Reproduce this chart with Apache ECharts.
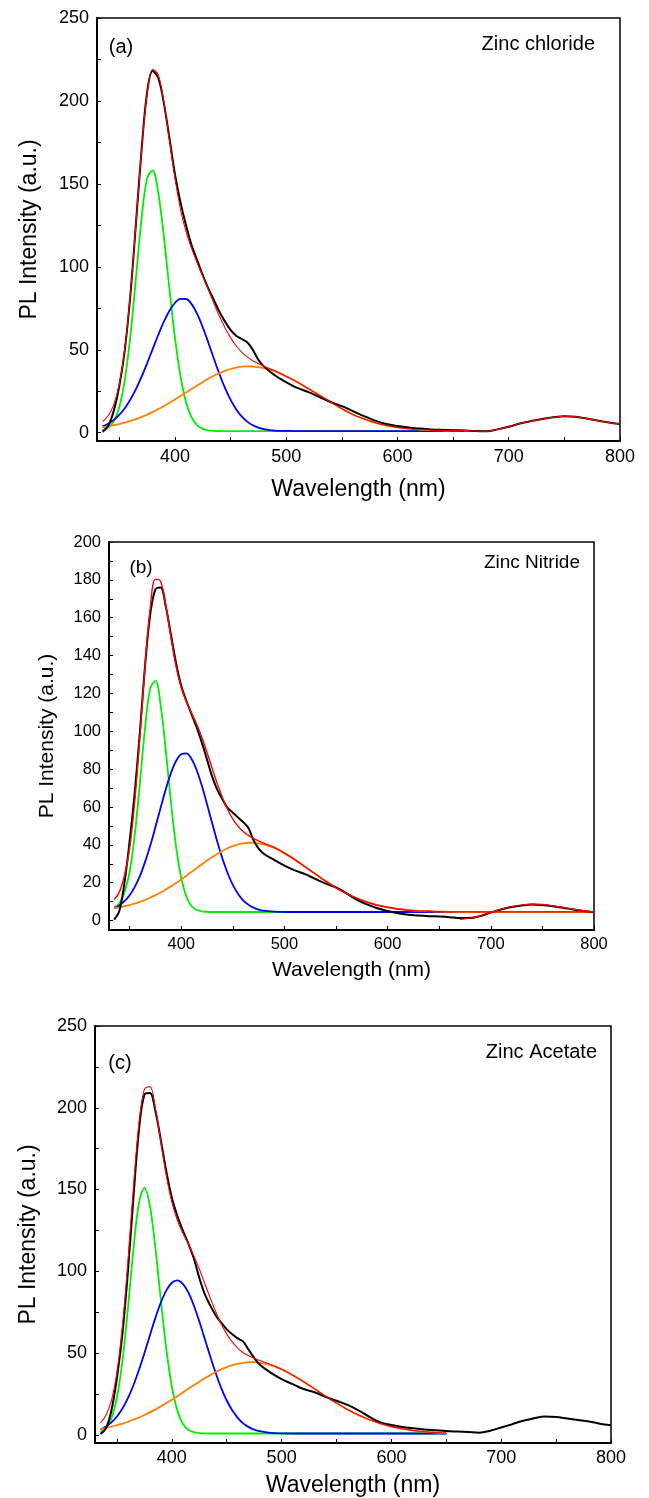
<!DOCTYPE html>
<html><head><meta charset="utf-8">
<script src="https://cdn.jsdelivr.net/npm/echarts/dist/echarts.min.js"></script>
<style>html,body{margin:0;padding:0;background:#fff}#c{width:649px;height:1498px}</style>
</head><body><div id="c"></div>
<script>
// ---- shared wavelength grid (nm) ----
const wl = [335,340,345,350,355,360,365,370,375,380,385,390,395,400,405,410,415,420,425,430,435,440,445,450,455,460,465,470,475,480,
  490,500,510,520,530,540,550,560,570,580,590,600,610,620,630,640,650,660,670,680,690,700,710,720,730,740,750,760,770,780,790,800];
const wlTailA = [660,670,680,690,700,710,720,730,740,750,760,770,780,790,800];
const wlTailB = [670,680,690,700,710,720,730,740,750,760,770,780,790,800];

// ---- tick labels ----
const xTickLabels = [400,500,600,700,800];
const xTickMarks = [350,400,450,500,550,600,650,700,750,800];
const yTicksAC = [0,50,100,150,200,250];
const yMarksAC = [0,25,50,75,100,125,150,175,200,225,250];
const yTicksB = [0,20,40,60,80,100,120,140,160,180,200];
const yMarksB = [0,10,20,30,40,50,60,70,80,90,100,110,120,130,140,150,160,170,180,190,200];

// ---- panel (a) Zinc chloride ----
const aBlack = [0.5,4,13,28,50,83,126,170,205,218,214,199,178,156,139,125,113,104,95,87,80,73,67,62,58.5,56.5,54.5,50,44,40,
  34.5,30.5,27,24.5,21.5,18.5,16,13,10,7.3,5.2,4,3.1,2.5,2,1.7,1.5,1.3,1,0.9,2,3.6,5.5,7,8.3,9.3,9.9,9.6,8.5,7.3,6.2,5.3];
const aFit = [6.7,10.2,16.8,29.2,50.7,83.5,125.7,169.8,204,219.1,215.9,199.5,176.7,153.8,135,121.2,111.1,102.5,94.4,86.3,78.1,70.3,63.3,57.3,52.4,48.6,45.7,43.4,41.7,40.1,
  37.3,34,30.5,26.5,22.5,18.5,14.5,11,8.3,6,4.3,3.2,2.4,1.9,1.6,1.4,1.3,1.2];
const aFitTail = [1.3,1,0.9,2,3.6,5.5,7,8.3,9.3,9.9,9.6,8.5,7.3,6.2,5.3];
const aGreen = [1.6,3,6.7,15.3,31.8,58.4,93.2,128.7,153.3,158.2,144.8,118.7,87.3,57.6,34.2,18.4,9.2,4.4,2.3,1.4,1.1,1,1,1,1,1,1,1,1,1,
  1,1,1,1,1,1,1,1,1,1,1,1,1,1,1,1,1,1];
const aBlue = [3.8,5.4,7.6,10.7,14.8,20,26.3,33.6,41.8,50.4,58.9,66.8,73.4,78.2,80.7,80.6,77.5,71.6,63.6,54.4,44.7,35.4,27,19.9,14.2,9.8,6.7,4.5,3.1,2.2,
  1.3,1.1,1,1,1,1,1,1,1,1,1,1,1,1,1,1,1,1];
const aOrange = [3.3,3.8,4.5,5.2,6.1,7.1,8.2,9.5,10.9,12.5,14.2,16,18,20,22.1,24.2,26.4,28.5,30.5,32.5,34.3,35.9,37.3,38.4,39.2,39.8,40,39.9,39.6,38.9,
  37,33.9,30.5,26.5,22.5,18.5,14.5,11,8.3,6,4.3,3.2,2.4,1.9,1.6,1.4,1.3,1.2];

// ---- panel (b) Zinc Nitride ----
const bBlack = [0.5,5,20,42,68,100,135,162,175,176,166,151,136,124,116,109,102,94,85,76,69,64,59.5,57,54.5,52,49,42.5,38,35.3,
  32,29,26.5,24.5,22,19.5,17.5,14.5,11,8.5,6.5,5,3.8,3,2.6,2.3,2.1,1.8,1.3,1.3,2.4,4.2,5.8,7.1,8,8.5,8.2,7.6,6.8,5.8,5,4.4];
const bFit = [11.1,15,23.8,38.1,63.3,97.5,134.9,165.4,180.4,179.3,166.7,149.8,134.1,123.1,115.6,109.7,103.7,96.7,88.8,80.4,72.2,64.9,58.7,53.6,49.9,47,45,43.4,42.1,40.9,
  38.6,35.6,32.2,28.4,24.6,20.8,17.3,14.3,11.8,9.7,8.1,7,6.1,5.5,5.1,4.9,4.7,4.6,4.6,4.6,4.6,4.6,4.6,4.6,4.6,4.6,4.6,4.6,4.6,4.6,4.6,4.6];
const bFitTail = [0.6,1.2,2.5,4.3,6,7.3,8.2,8.7,8.5,7.8,7,6,5.2,4.5];
const bGreen = [7,9,15,25.5,45.5,73,102,122.7,126.6,114,90,62.8,39,22.5,12.6,7.7,5.6,4.8,4.6,4.5,4.5,4.5,4.5,4.5,4.5,4.5,4.5,4.5,4.5,4.5,
  4.5,4.5,4.5,4.5,4.5,4.5,4.5,4.5,4.5,4.5,4.5,4.5,4.5,4.5,4.5,4.5,4.5,4.5,4.5,4.5,4.5,4.5,4.5,4.5,4.5,4.5,4.5,4.5,4.5,4.5,4.5,4.5];
const bBlue = [6.6,8,10.2,13.4,17.8,23.6,31,39.6,49.4,59.5,69.3,77.9,84.3,87.9,88.3,85.3,79.4,71.2,61.5,51.4,41.5,32.6,25,18.8,14.2,10.7,8.4,6.8,5.8,5.2,
  4.7,4.5,4.5,4.5,4.5,4.5,4.5,4.5,4.5,4.5,4.5,4.5,4.5,4.5,4.5,4.5,4.5,4.5,4.5,4.5,4.5,4.5,4.5,4.5,4.5,4.5,4.5,4.5,4.5,4.5,4.5,4.5];
const bOrange = [6.5,7,7.6,8.2,9,9.9,10.9,12.1,13.4,14.8,16.4,18.1,19.8,21.7,23.7,25.7,27.7,29.7,31.7,33.5,35.2,36.8,38.2,39.3,40.2,40.8,41.1,41.1,40.8,40.2,
  38.4,35.6,32.2,28.4,24.6,20.8,17.3,14.3,11.8,9.7,8.1,7,6.1,5.5,5.1,4.9,4.7,4.6,4.5,4.5,4.5,4.5,4.5,4.5,4.5,4.5,4.5,4.5,4.5,4.5,4.5,4.5];

// ---- panel (c) Zinc Acetate ----
const cBlack = [0.5,4,15,35,62,100,145,186,208,209,198,180,161,145,134,125,117,108,96,86,79,73,68.5,64.5,61.5,59,57,52,47,43,
  38,34,31,28,26,23.2,20.8,18.3,15,11,7.6,6,4.8,4,3.3,2.8,2.3,2,1.7,1.3,2.5,4.5,6.5,8.6,10.2,11.2,10.9,10,9.1,8.2,6.8,5.8];
const cFit = [7.3,11.9,21,38.3,66.7,106.2,151.3,190.2,211.4,212.9,199.7,179,158.3,142.3,131.2,123.4,116.7,109.4,101.4,92.5,83.6,75.3,67.8,61.6,56.8,53,50.2,48.3,46.8,45.4,
  43,40.1,36.5,32.5,28.1,23.6,19.4,15.5,12.1,9.2,6.9,5,3.7,2.6,1.9,1.4,1.1];
const cGreen = [1.8,4.1,10,22.8,45.3,77.4,113.4,141.6,151,140,114.3,82.3,52.2,29.4,14.8,6.8,3.1,1.6,1.1,0.9,0.8,0.8,0.8,0.8,0.8,0.8,0.8,0.8,0.8,0.8,
  0.8,0.8,0.8,0.8,0.8,0.8,0.8,0.8,0.8,0.8,0.8,0.8,0.8,0.8,0.8,0.8,0.8];
const cBlue = [3.4,5.1,7.6,11.2,16.1,22.4,30.3,39.6,49.9,60.8,71.5,80.9,88.3,93,94.4,92.3,87.1,79.1,69.4,58.6,47.9,37.7,28.6,21,15,10.4,7,4.7,3.2,2.2,
  1.2,0.9,0.8,0.8,0.8,0.8,0.8,0.8,0.8,0.8,0.8,0.8,0.8,0.8,0.8,0.8,0.8];
const cOrange = [3.7,4.3,5,5.9,6.9,8,9.2,10.6,12.1,13.7,15.5,17.4,19.4,21.5,23.6,25.9,28.1,30.3,32.5,34.6,36.5,38.4,40,41.4,42.6,43.4,44,44.4,44.4,44,
  42.6,40,36.5,32.5,28.1,23.6,19.4,15.5,12.1,9.2,6.9,5,3.7,2.6,1.9,1.4,1.1];

const FONT = '"Liberation Sans", Arial, Helvetica, sans-serif';
const pts = (xs, ys) => ys.map((y, i) => [xs[i], y]);

const panels = [
  { grid: {left: 97, top: 18, width: 523, height: 423}, yMax: 250, yTicks: yTicksAC, yMarks: yMarksAC,
    tick: 18, title: 23, xGap: 37, yGap: 56, xMargin: 7, yMargin: 8,
    lines: [[aGreen, wl, '#00ee00', 1.8], [aBlue, wl, '#0000ff', 1.8], [aOrange, wl, '#ff8000', 1.8],
            [aBlack, wl, '#000000', 2], [aFit, wl, '#ff0000', 1.1], [aFitTail, wlTailA, '#ff0000', 1.1]] },
  { grid: {left: 109, top: 542, width: 485, height: 388}, yMax: 200, yTicks: yTicksB, yMarks: yMarksB,
    tick: 16.5, title: 21, xGap: 30, yGap: 51, xMargin: 6, yMargin: 8,
    lines: [[bGreen, wl, '#00ee00', 1.8], [bBlue, wl, '#0000ff', 1.8], [bOrange, wl, '#ff8000', 1.8],
            [bBlack, wl, '#000000', 2], [bFit, wl, '#ff0000', 1.4], [bFitTail, wlTailB, '#ff0000', 1.2]] },
  { grid: {left: 95, top: 1026, width: 516, height: 417}, yMax: 250, yTicks: yTicksAC, yMarks: yMarksAC,
    tick: 18, title: 23, xGap: 31, yGap: 55, xMargin: 6, yMargin: 8,
    lines: [[cGreen, wl, '#00ee00', 1.8], [cBlue, wl, '#0000ff', 1.8], [cOrange, wl, '#ff8000', 1.8],
            [cBlack, wl, '#000000', 2], [cFit, wl, '#ff0000', 1.1]] }
];

const grids = [], xAxes = [], yAxes = [], series = [];
panels.forEach((p, i) => {
  grids.push(Object.assign({show: true, borderColor: '#000', borderWidth: 1.5, backgroundColor: 'transparent'}, p.grid));
  xAxes.push({
    type: 'value', gridIndex: i, min: 330, max: 800,
    name: 'Wavelength (nm)', nameLocation: 'middle', nameGap: p.xGap,
    nameTextStyle: {fontSize: p.title, color: '#000', fontFamily: FONT},
    axisLine: {show: true, onZero: false, lineStyle: {color: '#000', width: 2}},
    axisTick: {show: true, inside: true, length: 4, customValues: xTickMarks, lineStyle: {color: '#000', width: 1}},
    axisLabel: {customValues: xTickLabels, fontSize: p.tick, color: '#000', fontFamily: FONT, margin: p.xMargin},
    splitLine: {show: false}
  });
  yAxes.push({
    type: 'value', gridIndex: i, min: -5, max: p.yMax,
    name: 'PL Intensity (a.u.)', nameLocation: 'middle', nameGap: p.yGap, nameRotate: 90,
    nameTextStyle: {fontSize: p.title, color: '#000', fontFamily: FONT},
    axisLine: {show: true, onZero: false, lineStyle: {color: '#000', width: 2}},
    axisTick: {show: true, inside: true, length: 4, customValues: p.yMarks, lineStyle: {color: '#000', width: 1}},
    axisLabel: {customValues: p.yTicks, fontSize: p.tick, color: '#000', fontFamily: FONT, margin: p.yMargin},
    splitLine: {show: false}
  });
  p.lines.forEach(([ys, xs, color, w]) => {
    series.push({
      type: 'line', xAxisIndex: i, yAxisIndex: i, data: pts(xs, ys),
      showSymbol: false, smooth: 0.35, silent: true,
      lineStyle: {color: color, width: w}, itemStyle: {color: color}
    });
  });
});

const label = (x, y, text, size, align) => ({
  type: 'text', x: x, y: y, silent: true, z: 100,
  style: {text: text, fontSize: size, fontFamily: FONT, fill: '#000', align: align, verticalAlign: 'middle'}
});

const chart = echarts.init(document.getElementById('c'), null, {renderer: 'canvas'});
chart.setOption({
  animation: false,
  backgroundColor: '#fff',
  grid: grids, xAxis: xAxes, yAxis: yAxes, series: series,
  graphic: [
    label(121, 47, '(a)', 20, 'center'),
    label(595, 44, 'Zinc chloride', 20, 'right'),
    label(141, 568, '(b)', 19, 'center'),
    label(580, 563, 'Zinc Nitride', 19, 'right'),
    label(120, 1063, '(c)', 20, 'center'),
    label(597, 1052, 'Zinc Acetate', 20, 'right')
  ]
});
</script></body></html>
